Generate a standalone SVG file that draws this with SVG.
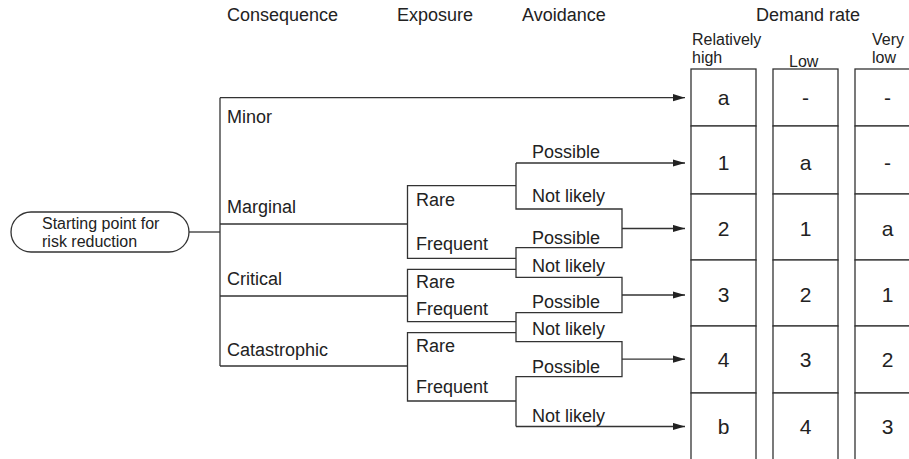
<svg xmlns="http://www.w3.org/2000/svg" width="909" height="459" viewBox="0 0 909 459">
<defs>
<marker id="arr" markerWidth="12" markerHeight="8" refX="12" refY="4" orient="auto" markerUnits="userSpaceOnUse">
<path d="M0,0.4 L12,4 L0,7.6 Z" fill="#222"/>
</marker>
<style>
text{font-family:"Liberation Sans",Arial,sans-serif;fill:#222;}
.h{font-size:18px;}
.s{font-size:16px;}
.v{font-size:21px;text-anchor:middle;}
.ln{fill:none;stroke:#333;stroke-width:1.3;}
.box{fill:#fff;stroke:#333;stroke-width:1.3;}
</style>
</defs>
<rect width="909" height="459" fill="#fff"/>
<g id="headers">
<text class="h" x="227" y="21">Consequence</text>
<text class="h" x="397" y="21">Exposure</text>
<text class="h" x="522" y="21">Avoidance</text>
<text class="h" x="756" y="21">Demand rate</text>
<text class="s" x="692" y="45">Relatively</text>
<text class="s" x="692" y="63">high</text>
<text class="s" x="789" y="66.5">Low</text>
<text class="s" x="872" y="45">Very</text>
<text class="s" x="872" y="63">low</text>
</g>
<g id="connectors">
<path class="ln" d="M189,232 H220"/>
<path class="ln" d="M220,97.7 V366"/>
<path class="ln" d="M220,97.7 H685" marker-end="url(#arr)"/>
<path class="ln" d="M220,224 H407.5"/>
<path class="ln" d="M220,296 H407.5"/>
<path class="ln" d="M220,366 H407.5"/>
<path class="ln" d="M516,185.7 H407.5 V258.3 H516"/>
<path class="ln" d="M516,269.3 H407.5 V321.7 H516"/>
<path class="ln" d="M516,332.7 H407.5 V401 H516"/>
<path class="ln" d="M516,163 V209 H622 V247.7 H516 V277.3 H622 V312.7 H516 V341.7 H622 V376.7 H516 V426.5"/>
<path class="ln" d="M516,163 H685" marker-end="url(#arr)"/>
<path class="ln" d="M622,228.5 H685" marker-end="url(#arr)"/>
<path class="ln" d="M622,295 H685" marker-end="url(#arr)"/>
<path class="ln" d="M622,359.2 H685" marker-end="url(#arr)"/>
<path class="ln" d="M516,426.5 H685" marker-end="url(#arr)"/>
</g>
<g id="start">
<rect class="box" x="11" y="212" width="178" height="40" rx="20" ry="20"/>
<text class="s" x="42" y="229">Starting point for</text>
<text class="s" x="42" y="246.7">risk reduction</text>
</g>
<g id="consequence">
<text class="h" x="227" y="123">Minor</text>
<text class="h" x="227" y="212.7">Marginal</text>
<text class="h" x="227" y="285">Critical</text>
<text class="h" x="227" y="356">Catastrophic</text>
</g>
<g id="exposure">
<text class="h" x="416" y="206">Rare</text>
<text class="h" x="416" y="250">Frequent</text>
<text class="h" x="416" y="288.3">Rare</text>
<text class="h" x="416" y="315">Frequent</text>
<text class="h" x="416" y="351.7">Rare</text>
<text class="h" x="416" y="393.3">Frequent</text>
</g>
<g id="avoidance">
<text class="h" x="532" y="157.7">Possible</text>
<text class="h" x="532" y="201.7">Not likely</text>
<text class="h" x="532" y="244">Possible</text>
<text class="h" x="532" y="271.7">Not likely</text>
<text class="h" x="532" y="308">Possible</text>
<text class="h" x="532" y="335">Not likely</text>
<text class="h" x="532" y="372.7">Possible</text>
<text class="h" x="532" y="421.7">Not likely</text>
</g>
<g id="col-high">
<rect class="box" x="691" y="69" width="65" height="57"/>
<rect class="box" x="691" y="126" width="65" height="68"/>
<rect class="box" x="691" y="194" width="65" height="66"/>
<rect class="box" x="691" y="260" width="65" height="66"/>
<rect class="box" x="691" y="326" width="65" height="67"/>
<rect class="box" x="691" y="393" width="65" height="68"/>
<text class="v" x="723.5" y="105">a</text>
<text class="v" x="723.5" y="170">1</text>
<text class="v" x="723.5" y="236">2</text>
<text class="v" x="723.5" y="301.5">3</text>
<text class="v" x="723.5" y="367">4</text>
<text class="v" x="723.5" y="433.5">b</text>
</g>
<g id="col-low">
<rect class="box" x="773" y="69" width="65" height="57"/>
<rect class="box" x="773" y="126" width="65" height="68"/>
<rect class="box" x="773" y="194" width="65" height="66"/>
<rect class="box" x="773" y="260" width="65" height="66"/>
<rect class="box" x="773" y="326" width="65" height="67"/>
<rect class="box" x="773" y="393" width="65" height="68"/>
<text class="v" x="805.5" y="105">-</text>
<text class="v" x="805.5" y="170">a</text>
<text class="v" x="805.5" y="236">1</text>
<text class="v" x="805.5" y="301.5">2</text>
<text class="v" x="805.5" y="367">3</text>
<text class="v" x="805.5" y="433.5">4</text>
</g>
<g id="col-verylow">
<rect class="box" x="855" y="69" width="65" height="57"/>
<rect class="box" x="855" y="126" width="65" height="68"/>
<rect class="box" x="855" y="194" width="65" height="66"/>
<rect class="box" x="855" y="260" width="65" height="66"/>
<rect class="box" x="855" y="326" width="65" height="67"/>
<rect class="box" x="855" y="393" width="65" height="68"/>
<text class="v" x="887.5" y="105">-</text>
<text class="v" x="887.5" y="170">-</text>
<text class="v" x="887.5" y="236">a</text>
<text class="v" x="887.5" y="301.5">1</text>
<text class="v" x="887.5" y="367">2</text>
<text class="v" x="887.5" y="433.5">3</text>
</g>
</svg>
